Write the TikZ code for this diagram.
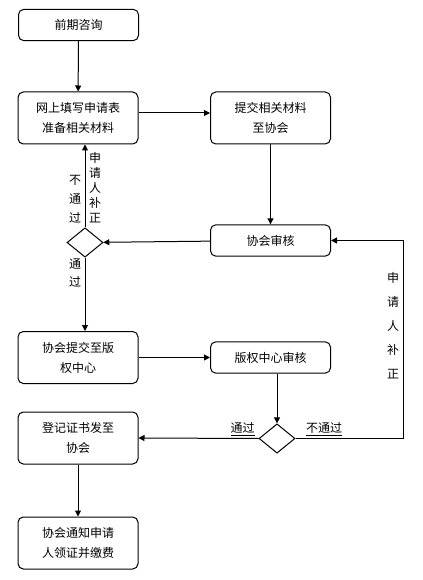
\documentclass[tikz,border=0pt]{standalone}
\usepackage{fontspec}
\setmainfont{Noto Sans CJK SC}
\usetikzlibrary{shapes.geometric,arrows.meta}
\begin{document}
\begin{tikzpicture}[x=0.75pt,y=-0.75pt,
  every path/.style={line width=0.75pt},
  box/.style={draw, rounded corners=4pt, minimum width=90pt, inner sep=0pt, align=center, font=\fontsize{9}{15}\selectfont},
  tall/.style={box, minimum height=39pt},
  short/.style={box, minimum height=23.5pt},
  dia/.style={draw, diamond, inner sep=0pt, minimum width=27pt, minimum height=22pt},
  arr/.style={-{Triangle[length=4.5pt,width=4.5pt]}},
  lab/.style={inner sep=0pt, align=center, font=\fontsize{9}{#1}\selectfont},
  lab/.default=14pt]
\useasboundingbox (0,0) rectangle (423,580);
\fill[white] (0,0) rectangle (423,580);

\node[short] (b1) at (78.5,25) {前期咨询};
\node[tall]  (b2) at (78,118) {网上填写申请表\\准备相关材料};
\node[tall]  (b3) at (270.5,118) {提交相关材料\\至协会};
\node[short] (b4) at (270.5,240.5) {协会审核};
\node[dia]   (d1) at (85,242.5) {};
\node[tall]  (b5) at (78,357.5) {协会提交至版\\权中心};
\node[short] (b6) at (270.5,357.5) {版权中心审核};
\node[dia]   (d2) at (277,438.5) {};
\node[tall]  (b7) at (78,438) {登记证书发至\\协会};
\node[tall]  (b8) at (78,543) {协会通知申请\\人领证并缴费};
\coordinate (c1) at (403,0);

\draw[arr] (b1) -- (b2);
\draw[arr] ([yshift=3.75pt]b2.east) -- ([yshift=3.75pt]b3.west);
\draw[arr] (b3) -- (b4);
\draw[arr] (b4) -- (d1);
\draw[arr] (d1.north) -- (d1.north |- b2.south);
\draw[arr] (d1.south) -- (d1.south |- b5.north);
\draw[arr] (b5) -- (b6);
\draw[arr] (d2.north |- b6.south) -- (d2.north);
\draw[arr] (d2.west) -- (b7.east);
\draw[arr] (d2.east) -- (d2.east -| c1) -- (c1 |- b4.east) -- (b4.east);
\draw[arr] (b7) -- (b8);

\node[lab=14.25pt] (l1) at (75,199.5) {不\\通\\过};
\node[lab=11.25pt] (l2) at (95,187.5) {申\\请\\人\\补\\正};
\node[lab=13.5pt]  (l3) at (75,273) {通\\过};
\node[lab=18pt]    (l4) at (393,326) {申\\请\\人\\补\\正};
\node[lab, anchor=south] (l5) at (242.5,437) {\underline{通过}};
\node[lab, anchor=south] (l6) at (324,437) {\underline{不通过}};
\end{tikzpicture}
\end{document}
